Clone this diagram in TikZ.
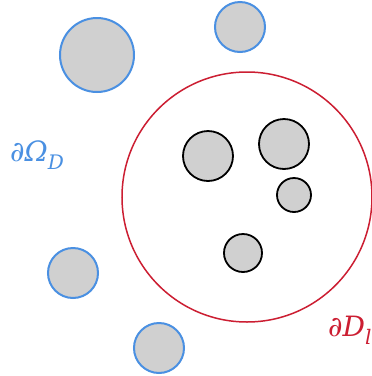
\documentclass[tikz,border=0pt]{standalone}
\usepackage{fontspec}
\setmainfont{DejaVu Serif}
\begin{document}
\begin{tikzpicture}[x=1pt,y=-1pt,
  blueinc/.style={draw=bluec,fill=grayf,line width=2pt},
  blackinc/.style={draw=black,fill=grayf,line width=1.8pt},
  lbl/.style={inner sep=0pt,anchor=base west,font=\fontsize{28}{30}\selectfont\itshape}]
\definecolor{bluec}{RGB}{74,144,226}
\definecolor{grayf}{RGB}{208,208,208}
\definecolor{redc}{RGB}{204,30,50}
\useasboundingbox (0,0) rectangle (372,376);
\fill[white] (0,0) rectangle (372,376);
\node[blueinc,circle,minimum size=74pt,inner sep=0pt] (b1) at (97,55) {};
\node[blueinc,circle,minimum size=50pt,inner sep=0pt] (b2) at (240,27) {};
\node[blueinc,circle,minimum size=50pt,inner sep=0pt] (b3) at (73,273) {};
\node[blueinc,circle,minimum size=50pt,inner sep=0pt] (b4) at (159,348) {};
\node[draw=redc,line width=1.5pt,circle,minimum size=250pt,inner sep=0pt] (red) at (247,197) {};
\node[blackinc,circle,minimum size=50pt,inner sep=0pt] (k1) at (208,156) {};
\node[blackinc,circle,minimum size=50pt,inner sep=0pt] (k2) at (284,144) {};
\node[blackinc,circle,minimum size=34pt,inner sep=0pt] (k3) at (294,195) {};
\node[blackinc,circle,minimum size=38pt,inner sep=0pt] (k4) at (243,253) {};
\node[lbl,text=bluec] (lo) at (10,161) {∂Ω\raisebox{-8pt}{\fontsize{20}{22}\selectfont D}};
\node[lbl,text=redc] (ld) at (328,336) {∂D\raisebox{-8pt}{\fontsize{20}{22}\selectfont l}};
\end{tikzpicture}
\end{document}
